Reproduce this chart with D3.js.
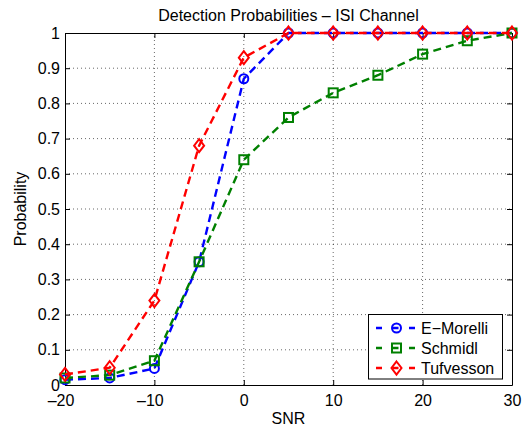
<!DOCTYPE html>
<html>
<head>
<meta charset="utf-8">
<script src="https://cdn.jsdelivr.net/npm/d3@7"></script>
<style>
  html, body { margin: 0; padding: 0; background: #fff; }
  svg { display: block; }
  text { font-family: "Liberation Sans", Arial, Helvetica, sans-serif; fill: #000; }
</style>
</head>
<body>
<svg id="chart" width="529" height="430"></svg>
<script>
// SNR values (dB) and detection probabilities for each estimator
const snr = [-20, -15, -10, -5, 0, 5, 10, 15, 20, 25, 30];
const eMorelli = [0.015, 0.02, 0.047, 0.35, 0.87, 1, 1, 1, 1, 1, 1];
const schmidl = [0.02, 0.028, 0.069, 0.35, 0.64, 0.76, 0.83, 0.88, 0.94, 0.978, 1];
const tufvesson = [0.03, 0.049, 0.24, 0.68, 0.93, 1, 1, 1, 1, 1, 1];

const seriesNames = ["E\u2212Morelli", "Schmidl", "Tufvesson"];
const seriesColors = ["#0000ff", "#008000", "#ff0000"];
const seriesMarkers = ["circle", "square", "diamond"];

const xTicks = [-20, -10, 0, 10, 20, 30];
const yTicks = [0, 0.1, 0.2, 0.3, 0.4, 0.5, 0.6, 0.7, 0.8, 0.9, 1];

const titleText = "Detection Probabilities \u2013 ISI Channel";
const xLabel = "SNR";
const yLabel = "Probability";

const FONT = "16px";
const svg = d3.select("#chart");
const margin = { left: 65, right: 17, top: 33, bottom: 45 };
const W = 529, H = 430;
const x = d3.scaleLinear().domain([-20, 30]).range([margin.left, W - margin.right]);
const y = d3.scaleLinear().domain([0, 1]).range([H - margin.bottom, margin.top]);

const x0 = x.range()[0], x1 = x.range()[1];
const y0 = y.range()[0], y1 = y.range()[1];

// dotted grid
const grid = svg.append("g");
grid.selectAll(".gx").data(xTicks.slice(1, -1)).enter().append("line")
  .attr("x1", d => x(d)).attr("x2", d => x(d)).attr("y1", y0).attr("y2", y1)
  .attr("stroke", "#000").attr("stroke-width", 0.6).attr("stroke-dasharray", "1,3");
grid.selectAll(".gy").data(yTicks.slice(1, -1)).enter().append("line")
  .attr("x1", x0).attr("x2", x1).attr("y1", d => y(d)).attr("y2", d => y(d))
  .attr("stroke", "#000").attr("stroke-width", 0.6).attr("stroke-dasharray", "1,3");

// axes with inward ticks
const fmtX = d => d < 0 ? "\u2013" + Math.abs(d) : String(d);
const fmtY = d => d === 0 ? "0" : d === 1 ? "1" : d3.format(".1f")(d);

const axB = svg.append("g").attr("transform", `translate(0,${y0})`)
  .call(d3.axisBottom(x).tickValues(xTicks).tickSizeInner(-5).tickSizeOuter(0).tickPadding(10).tickFormat(fmtX));
axB.selectAll(".tick text").attr("dx", d => d < 0 ? -4.5 : 0);
const axT = svg.append("g").attr("transform", `translate(0,${y1})`)
  .call(d3.axisTop(x).tickValues(xTicks).tickSizeInner(-5).tickSizeOuter(0).tickFormat(""));
const axL = svg.append("g").attr("transform", `translate(${x0},0)`)
  .call(d3.axisLeft(y).tickValues(yTicks).tickSizeInner(-5).tickSizeOuter(0).tickPadding(5).tickFormat(fmtY));
const axR = svg.append("g").attr("transform", `translate(${x1},0)`)
  .call(d3.axisRight(y).tickValues(yTicks).tickSizeInner(-5).tickSizeOuter(0).tickFormat(""));
[axB, axT, axL, axR].forEach(a => {
  a.select(".domain").attr("stroke", "#000").attr("stroke-width", 1);
  a.selectAll(".tick line").attr("stroke", "#000");
  a.selectAll("text").style("font-size", FONT).attr("fill", "#000")
    .style("font-family", '"Liberation Sans", Arial, sans-serif');
});

// marker drawing
function drawMarker(g, type, cx, cy, color) {
  if (type === "circle") {
    g.append("circle").attr("cx", cx).attr("cy", cy).attr("r", 4.5)
      .attr("fill", "none").attr("stroke", color).attr("stroke-width", 2);
  } else if (type === "square") {
    g.append("rect").attr("x", cx - 4.5).attr("y", cy - 4.5).attr("width", 9).attr("height", 9)
      .attr("fill", "none").attr("stroke", color).attr("stroke-width", 2);
  } else {
    g.append("path").attr("d", `M${cx},${cy - 6.5}L${cx + 5},${cy}L${cx},${cy + 6.5}L${cx - 5},${cy}Z`)
      .attr("fill", "none").attr("stroke", color).attr("stroke-width", 2);
  }
}

const allSeries = [eMorelli, schmidl, tufvesson];
const line = d3.line().x(d => x(d[0])).y(d => y(d[1]));
allSeries.forEach((vals, i) => {
  const pts = snr.map((s, j) => [s, vals[j]]);
  const g = svg.append("g");
  g.append("path").attr("d", line(pts)).attr("fill", "none")
    .attr("stroke", seriesColors[i]).attr("stroke-width", 2.4)
    .attr("stroke-dasharray", "8,5");
  pts.forEach(p => drawMarker(g, seriesMarkers[i], x(p[0]), y(p[1]), seriesColors[i]));
});

// legend
const lg = svg.append("g");
lg.append("rect").attr("x", 368.5).attr("y", 314.5).attr("width", 134).attr("height", 64.5)
  .attr("fill", "#fff").attr("stroke", "#000").attr("stroke-width", 1);
seriesNames.forEach((name, i) => {
  const ly = 328 + i * 20;
  lg.append("line").attr("x1", 376).attr("x2", 417).attr("y1", ly).attr("y2", ly)
    .attr("stroke", seriesColors[i]).attr("stroke-width", 2.4).attr("stroke-dasharray", "6,10.5");
  drawMarker(lg, seriesMarkers[i], 396.5, ly, seriesColors[i]);
  lg.append("text").attr("x", 421).attr("y", ly).attr("dy", "0.36em")
    .style("font-size", FONT).text(name);
});

// titles
svg.append("text").attr("x", (x0 + x1) / 2).attr("y", 21).attr("text-anchor", "middle")
  .style("font-size", FONT).text(titleText);
svg.append("text").attr("x", (x0 + x1) / 2).attr("y", 424).attr("text-anchor", "middle")
  .style("font-size", FONT).text(xLabel);
svg.append("text").attr("transform", `translate(26,${(y0 + y1) / 2}) rotate(-90)`)
  .attr("text-anchor", "middle").style("font-size", FONT).text(yLabel);
</script>
</body>
</html>
